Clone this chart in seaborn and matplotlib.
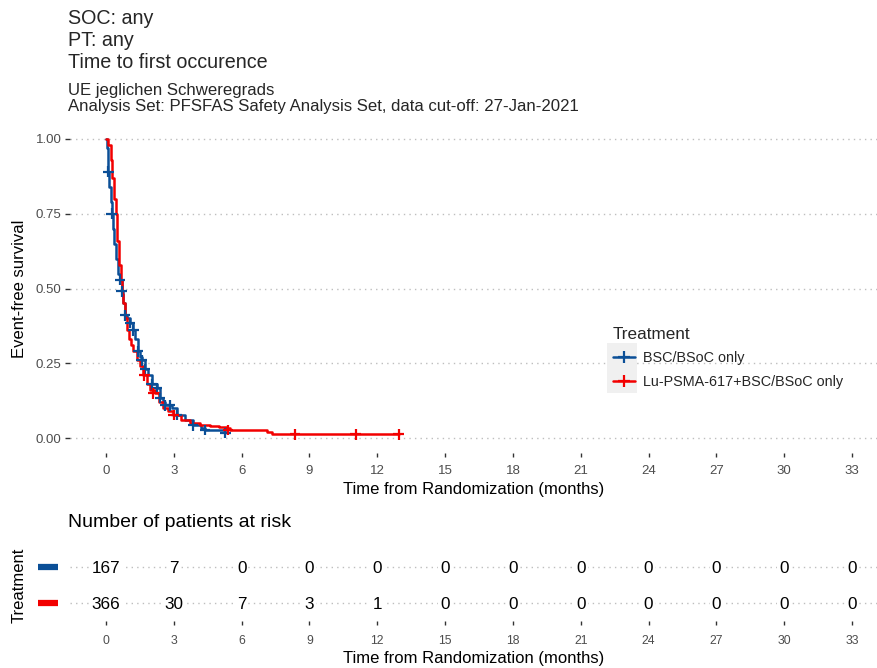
import matplotlib
matplotlib.use("Agg")
import matplotlib.pyplot as plt
import seaborn as sns
import pandas as pd
import numpy as np
from matplotlib.lines import Line2D
from matplotlib.patches import Rectangle

# ---------------- data ----------------
groups = ["BSC/BSoC only", "Lu-PSMA-617+BSC/BSoC only"]
colors = ["#0B4F97", "#F20000"]

bsc_time = [0, 0.03, 0.07, 0.10, 0.15, 0.20, 0.25, 0.30, 0.35, 0.45, 0.55, 0.62, 0.69, 0.75,
            0.84, 0.95, 1.06, 1.20, 1.30, 1.42, 1.50, 1.58, 1.73, 1.85, 2.02, 2.24, 2.39, 2.50,
            2.61, 2.90, 3.13, 3.50, 3.85, 4.20, 4.38, 5.27]
bsc_surv = [1.00, 0.97, 0.93, 0.89, 0.84, 0.79, 0.75, 0.70, 0.65, 0.60, 0.55, 0.53, 0.49, 0.45,
            0.41, 0.40, 0.385, 0.36, 0.33, 0.29, 0.27, 0.26, 0.23, 0.21, 0.18, 0.167, 0.134, 0.12,
            0.11, 0.10, 0.077, 0.06, 0.043, 0.035, 0.027, 0.017]
bsc_cens_time = [0.10, 0.25, 0.62, 0.69, 0.84, 1.06, 1.20, 1.42, 1.58, 1.73, 2.02, 2.24, 2.39,
                 2.61, 2.83, 3.13, 3.85, 4.38, 5.27]
bsc_cens_surv = [0.89, 0.75, 0.53, 0.49, 0.41, 0.385, 0.36, 0.29, 0.26, 0.23, 0.18, 0.167, 0.134,
                 0.11, 0.11, 0.077, 0.043, 0.027, 0.017]

lu_time = [0, 0.10, 0.20, 0.28, 0.35, 0.44, 0.50, 0.58, 0.65, 0.72, 0.77, 0.85, 0.91, 1.00,
           1.10, 1.20, 1.35, 1.50, 1.65, 1.80, 1.95, 2.17, 2.35, 2.52, 2.75, 2.96, 3.30, 3.72,
           4.16, 4.60, 5.00, 5.34, 5.50, 7.10, 7.35, 12.95]
lu_surv = [1.00, 0.98, 0.93, 0.87, 0.80, 0.75, 0.66, 0.58, 0.53, 0.48, 0.45, 0.40, 0.36, 0.33,
           0.31, 0.29, 0.26, 0.24, 0.21, 0.18, 0.16, 0.15, 0.12, 0.10, 0.09, 0.077, 0.062, 0.05,
           0.043, 0.040, 0.036, 0.033, 0.027, 0.021, 0.013, 0.013]
lu_cens_time = [1.70, 2.10, 3.00, 5.40, 8.36, 11.05, 12.95]
lu_cens_surv = [0.21, 0.15, 0.077, 0.027, 0.013, 0.013, 0.013]

risk_times = [0, 3, 6, 9, 12, 15, 18, 21, 24, 27, 30, 33]
risk_bsc = [167, 7, 0, 0, 0, 0, 0, 0, 0, 0, 0, 0]
risk_lu = [366, 30, 7, 3, 1, 0, 0, 0, 0, 0, 0, 0]

y_ticks = [0.0, 0.25, 0.5, 0.75, 1.0]
y_ticklabels = ["0.00", "0.25", "0.50", "0.75", "1.00"]

# ---------------- build frames ----------------
curves = pd.concat([
    pd.DataFrame({"time": bsc_time, "surv": bsc_surv, "Treatment": groups[0]}),
    pd.DataFrame({"time": lu_time, "surv": lu_surv, "Treatment": groups[1]}),
])
cens = pd.concat([
    pd.DataFrame({"time": bsc_cens_time, "surv": bsc_cens_surv, "Treatment": groups[0]}),
    pd.DataFrame({"time": lu_cens_time, "surv": lu_cens_surv, "Treatment": groups[1]}),
])
risk = pd.concat([
    pd.DataFrame({"time": risk_times, "n": risk_bsc, "row": 0}),
    pd.DataFrame({"time": risk_times, "n": risk_lu, "row": 1}),
])

sns.set_theme(style="white")
plt.rcParams["font.family"] = ["Liberation Sans", "DejaVu Sans"]

W, H = 877, 668
fig = plt.figure(figsize=(W / 100, H / 100), dpi=100)
palette = dict(zip(groups, colors))

def fx(px):
    return px / W

def fy(py):
    return 1 - py / H

# main axis
left_px, right_px = 70, 877
x0_px, x33_px = 106, 852
ppm = (x33_px - x0_px) / 33.0
xlim = ((left_px - x0_px) / ppm, (right_px - x0_px) / ppm)
ax_w = right_px - left_px

GRID = dict(color="#BEBEBE", lw=1.0, ls=(0, (1, 3)), zorder=0)

ax = fig.add_axes([fx(left_px), fy(453), fx(ax_w), (453 - 124) / H])
sns.lineplot(data=curves, x="time", y="surv", hue="Treatment", palette=palette,
             estimator=None, drawstyle="steps-post", linewidth=1.8, ax=ax, legend=False)
sns.scatterplot(data=cens, x="time", y="surv", hue="Treatment", palette=palette,
                marker="+", s=60, linewidth=1.6, ax=ax, legend=False, zorder=3)
ax.set_xlim(*xlim)
ax.set_ylim(-0.05, 1.05)
ax.set_xticks(risk_times)
ax.set_xticklabels([str(t) for t in risk_times])
ax.set_yticks(y_ticks)
ax.set_yticklabels(y_ticklabels)
for s in ax.spines.values():
    s.set_visible(False)
ax.grid(False)
for yv in y_ticks:
    ax.axhline(yv, **GRID)
ax.tick_params(axis="x", length=3, width=1, color="#333333", labelsize=9.5,
               labelcolor="#4D4D4D", pad=6, bottom=True)
ax.tick_params(axis="y", length=3.5, width=1, color="#333333", labelsize=9.5,
               labelcolor="#4D4D4D", pad=2.5, left=True)
ax.set_xlabel("Time from Randomization (months)", fontsize=12, color="black", labelpad=3.5)
ax.set_ylabel("Event-free survival", fontsize=12, color="black")
ax.yaxis.set_label_coords((27 - left_px) / ax_w, 0.5)

handles = [Line2D([0], [0], color=c, lw=1.8, marker="+", markersize=8, markeredgewidth=1.6)
           for c in colors]
ax.add_patch(Rectangle((fx(607), fy(393)), fx(30), (393 - 343) / H,
                       transform=fig.transFigure, facecolor="#F0F0F0",
                       edgecolor="none", zorder=1, clip_on=False))
leg = ax.legend(handles, groups, title="Treatment", loc="upper left",
                bbox_to_anchor=(fx(600), fy(314)), bbox_transform=fig.transFigure,
                frameon=False, fontsize=10.4, title_fontsize=12.3, handlelength=1.5,
                handletextpad=0.6, labelspacing=0.65)
leg._legend_box.align = "left"
leg.set_zorder(6)

# risk table
rax = fig.add_axes([fx(left_px), fy(621), fx(ax_w), 72 / H])
for r, c in zip([0, 1], colors):
    sub = risk[risk["row"] == r]
    for t, n in zip(sub["time"], sub["n"]):
        rax.text(t, r, str(n), ha="center", va="center_baseline", fontsize=12.3, color="black",
                 bbox=dict(facecolor="white", edgecolor="none", pad=1.5))
for r in [0, 1]:
    rax.axhline(r, **GRID)
rax.set_xlim(*xlim)
rax.set_ylim(1.5, -0.5)
rax.set_xticks(risk_times)
rax.set_xticklabels([str(t) for t in risk_times])
rax.set_yticks([0, 1])
rax.set_yticklabels(["", ""])
# colour keys for the risk-table rows
for r, c in zip([0, 1], colors):
    rax.add_line(Line2D([(38 - left_px) / ax_w, (58 - left_px) / ax_w], [r, r], color=c,
                        lw=4.5, solid_capstyle="butt", transform=rax.get_yaxis_transform(),
                        clip_on=False))
for s in rax.spines.values():
    s.set_visible(False)
rax.grid(False)
rax.tick_params(axis="x", length=3, width=1, color="#333333", labelsize=8.8,
                labelcolor="#4D4D4D", pad=7, bottom=True)
rax.tick_params(axis="y", length=0)
rax.set_xlabel("Time from Randomization (months)", fontsize=12, color="black", labelpad=3)
rax.set_ylabel("Treatment", fontsize=12, color="black")
rax.yaxis.set_label_coords((27 - left_px) / ax_w, 0.5)
rax.text((68 - left_px) / ax_w, 1 + (549 - 531) / 72, "Number of patients at risk",
         transform=rax.transAxes, ha="left", va="bottom", fontsize=14, color="black")

# titles
fig.text(fx(68), fy(18), "SOC: any", fontsize=14.2, va="center", ha="left")
fig.text(fx(68), fy(40), "PT: any", fontsize=14.2, va="center", ha="left")
fig.text(fx(68), fy(62), "Time to first occurence", fontsize=14.2, va="center", ha="left")
fig.text(fx(68), fy(90), "UE jeglichen Schweregrads", fontsize=12.1, va="center", ha="left")
fig.text(fx(68), fy(106), "Analysis Set: PFSFAS Safety Analysis Set, data cut-off: 27-Jan-2021",
         fontsize=12.1, va="center", ha="left")

fig.savefig("out.png", dpi=100, facecolor="white")
